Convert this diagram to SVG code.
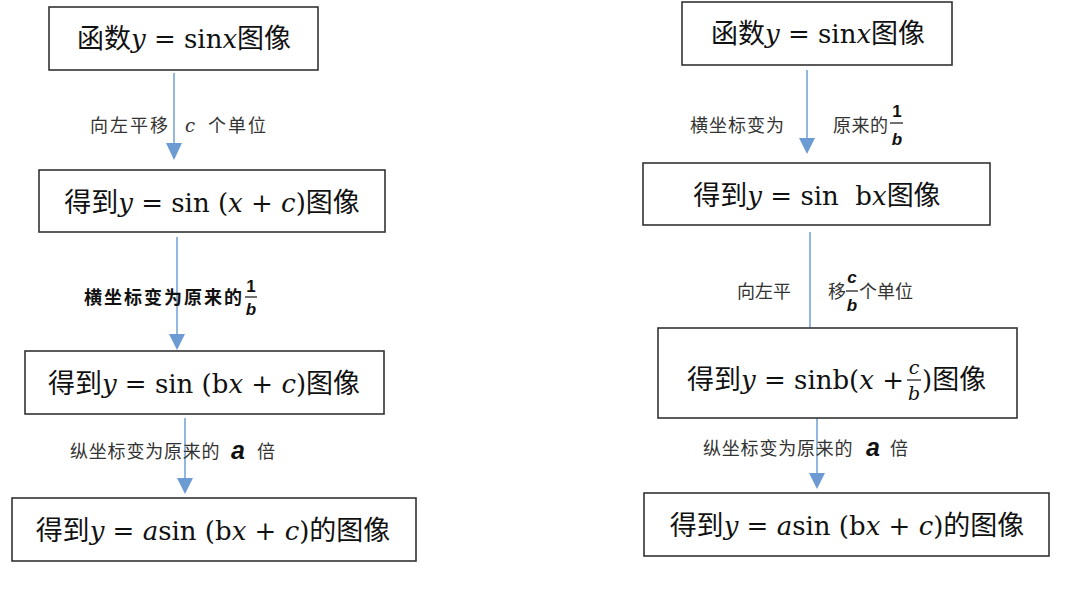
<svg xmlns="http://www.w3.org/2000/svg" width="1080" height="591" viewBox="0 0 1080 591">
<defs>
<style>
text{font-family:"Noto Sans CJK SC","Noto Sans",sans-serif;fill:#111}
.box rect{fill:#fff;stroke:#333;stroke-width:1.6}
.bt{font-size:27px}
.m{font-family:"DejaVu Serif","Liberation Serif",serif;font-size:26px}
.i{font-style:italic}
.lb{font-size:18px;fill:#333}
.lbb{font-size:18px;fill:#111;font-weight:bold}
.fr{font-family:"Liberation Sans",sans-serif;font-size:17px;font-weight:bold;fill:#111}
.fl{stroke:#111;stroke-width:1.2}
.conn line{stroke:#6f9fd2;stroke-width:1.5}
.conn polygon{fill:#6b9bd2}
</style>
</defs>
<rect width="1080" height="591" fill="#fff"/>

<g id="connectors" class="conn">
<line x1="174" y1="73" x2="174" y2="145"/><polygon points="166,143 182,143 174,160"/>
<line x1="177" y1="237" x2="177" y2="336"/><polygon points="169,334 185,334 177,350"/>
<line x1="185" y1="418" x2="185" y2="480"/><polygon points="177,478 193,478 185,494"/>
<line x1="807" y1="70" x2="807" y2="140"/><polygon points="799,138 815,138 807,154"/>
<line x1="810" y1="232" x2="810" y2="328"/>
<line x1="817" y1="402" x2="817" y2="475"/><polygon points="809,473 825,473 817,489"/>
</g>

<g id="L1" class="box"><rect x="49" y="7" width="269" height="63"/>
<text class="bt" x="184" y="48" text-anchor="middle">函数<tspan class="m i">y</tspan><tspan class="m"> = sin</tspan><tspan class="m i">x</tspan>图像</text></g>

<g id="L2" class="box"><rect x="39" y="170" width="346" height="62"/>
<text class="bt" x="212" y="212" text-anchor="middle">得到<tspan class="m i">y</tspan><tspan class="m"> = sin (</tspan><tspan class="m i">x</tspan><tspan class="m"> + </tspan><tspan class="m i">c</tspan><tspan class="m">)</tspan>图像</text></g>

<g id="L3" class="box"><rect x="25" y="351" width="359" height="63"/>
<text class="bt" x="204" y="393" text-anchor="middle">得到<tspan class="m i">y</tspan><tspan class="m"> = sin (b</tspan><tspan class="m i">x</tspan><tspan class="m"> + </tspan><tspan class="m i">c</tspan><tspan class="m">)</tspan>图像</text></g>

<g id="L4" class="box"><rect x="12" y="498" width="404" height="63"/>
<text class="bt" x="213" y="540" text-anchor="middle">得到<tspan class="m i">y</tspan><tspan class="m"> = </tspan><tspan class="m i">a</tspan><tspan class="m">sin (b</tspan><tspan class="m i">x</tspan><tspan class="m"> + </tspan><tspan class="m i">c</tspan><tspan class="m">)</tspan>的图像</text></g>

<g id="R1" class="box"><rect x="682" y="2" width="270" height="63"/>
<text class="bt" x="818" y="43" text-anchor="middle">函数<tspan class="m i">y</tspan><tspan class="m"> = sin</tspan><tspan class="m i">x</tspan>图像</text></g>

<g id="R2" class="box"><rect x="643" y="163" width="347" height="62"/>
<text class="bt" x="817" y="205" text-anchor="middle">得到<tspan class="m i">y</tspan><tspan class="m"> = sin&#160; b</tspan><tspan class="m i">x</tspan>图像</text></g>

<g id="R3" class="box"><rect x="658" y="328" width="359" height="90"/>
<text class="bt" x="904" y="389" text-anchor="end">得到<tspan class="m i">y</tspan><tspan class="m"> = sinb(</tspan><tspan class="m i">x</tspan><tspan class="m"> +</tspan></text>
<text class="m i" x="914" y="374" text-anchor="middle" style="font-size:19px">c</text>
<line class="fl" x1="907" y1="380" x2="921" y2="380"/>
<text class="m i" x="914" y="400" text-anchor="middle" style="font-size:19px">b</text>
<text class="bt" x="922" y="389"><tspan class="m">)</tspan>图像</text></g>

<g id="R4" class="box"><rect x="644" y="493" width="405" height="63"/>
<text class="bt" x="847" y="535" text-anchor="middle">得到<tspan class="m i">y</tspan><tspan class="m"> = </tspan><tspan class="m i">a</tspan><tspan class="m">sin (b</tspan><tspan class="m i">x</tspan><tspan class="m"> + </tspan><tspan class="m i">c</tspan><tspan class="m">)</tspan>的图像</text></g>

<g id="labels">
<text class="lb" x="90" y="132" letter-spacing="2">向左平移</text>
<text class="m i" x="185" y="132" style="font-size:18px;fill:#333">c</text>
<text class="lb" x="208" y="132" letter-spacing="2">个单位</text>

<text class="lbb" x="84" y="304" letter-spacing="2">横坐标变为原来的</text>
<text class="fr" x="251" y="292" text-anchor="middle">1</text>
<line class="fl" x1="245" y1="297" x2="257" y2="297"/>
<text class="fr i" x="251" y="315" text-anchor="middle">b</text>

<text class="lb" x="70" y="458" letter-spacing="0.8">纵坐标变为原来的</text>
<text class="fr i" x="238" y="459" text-anchor="middle" style="font-size:25px">a</text>
<text class="lb" x="257" y="458">倍</text>

<text class="lb" x="690" y="132" letter-spacing="1">横坐标变为</text>
<text class="lb" x="833" y="132" letter-spacing="0.5">原来的</text>
<text class="fr" x="897" y="117" text-anchor="middle">1</text>
<line class="fl" x1="890" y1="123" x2="903" y2="123"/>
<text class="fr i" x="897" y="145" text-anchor="middle">b</text>

<text class="lb" x="737" y="298">向左平</text>
<text class="lb" x="828" y="298">移</text>
<text class="fr i" x="852" y="283" text-anchor="middle">c</text>
<line class="fl" x1="846" y1="291" x2="858" y2="291"/>
<text class="fr i" x="852" y="311" text-anchor="middle">b</text>
<text class="lb" x="859" y="298">个单位</text>

<text class="lb" x="703" y="455" letter-spacing="0.8">纵坐标变为原来的</text>
<text class="fr i" x="873" y="456" text-anchor="middle" style="font-size:25px">a</text>
<text class="lb" x="890" y="455">倍</text>
</g>
</svg>
